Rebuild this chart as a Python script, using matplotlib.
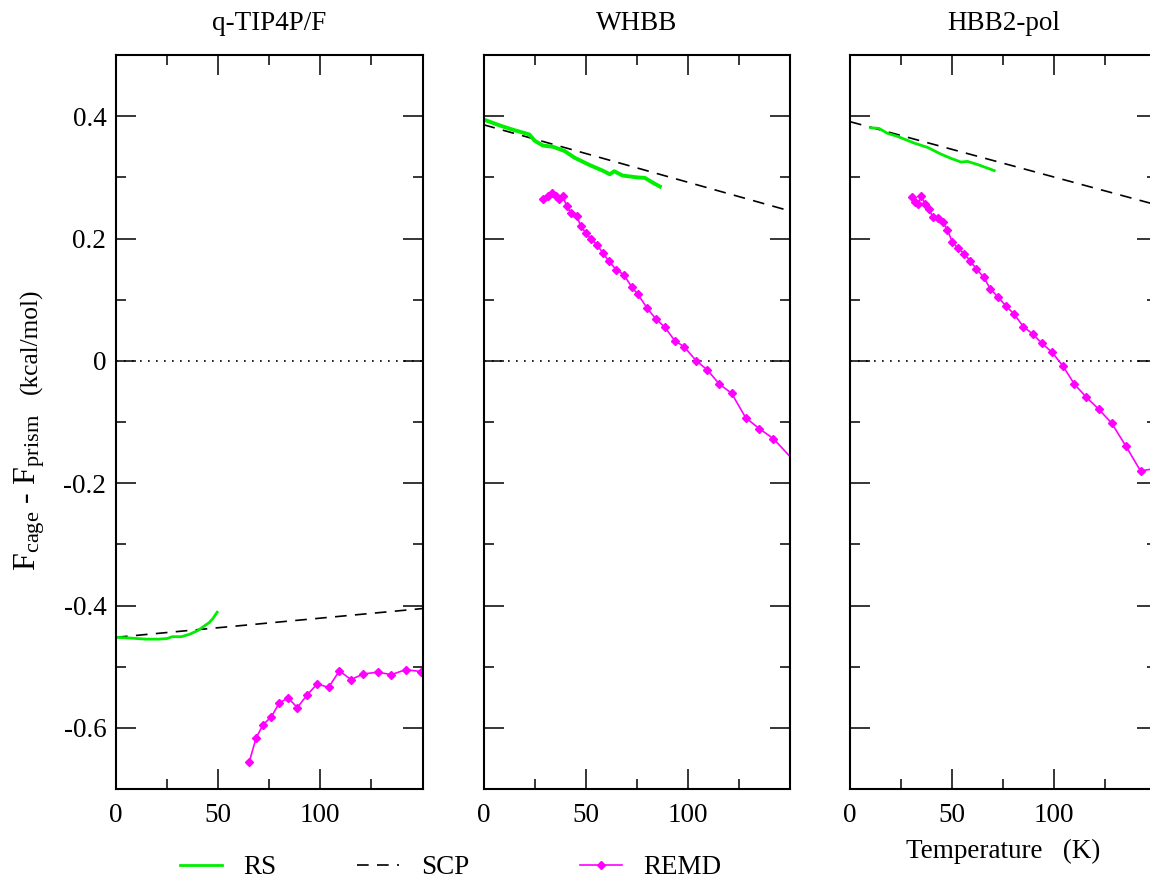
import matplotlib
matplotlib.use('Agg')
import matplotlib.pyplot as plt
from matplotlib.ticker import FixedLocator, FuncFormatter

plt.rcParams['font.family'] = ['Liberation Serif', 'DejaVu Serif']
plt.rcParams['mathtext.fontset'] = 'custom'
plt.rcParams['mathtext.rm'] = 'Liberation Serif'
plt.rcParams['mathtext.it'] = 'Liberation Serif:italic'
plt.rcParams['axes.unicode_minus'] = False

titles = ['q-TIP4P/F', 'WHBB', 'HBB2-pol']

# SCP: straight lines (end points)
scp_t = [[0, 150], [0, 150], [0, 150]]
scp_f = [[-0.452, -0.405], [0.386, 0.245], [0.391, 0.255]]

# RS curves
rs_t = [
    [0, 6, 14.5, 21, 25, 27.5, 32, 36, 40, 43, 45.6, 47.5, 49.5],
    [0.5, 7.8, 14.2, 22.5, 25, 29, 34, 39.7, 44.6, 52, 58.3, 61.8, 64, 68, 75, 79, 83, 86.3],
    [10.1, 14.2, 18.3, 23.2, 31.4, 37.9, 44.5, 49.4, 54.3, 57.5, 62.4, 70.6],
]
rs_f = [
    [-0.452, -0.453, -0.455, -0.455, -0.454, -0.451, -0.451, -0.447, -0.441, -0.434, -0.428, -0.421, -0.411],
    [0.394, 0.385, 0.378, 0.370, 0.360, 0.352, 0.350, 0.343, 0.332, 0.320, 0.311, 0.305, 0.310, 0.303,
     0.300, 0.299, 0.291, 0.285],
    [0.381, 0.380, 0.372, 0.367, 0.356, 0.349, 0.338, 0.331, 0.325, 0.326, 0.321, 0.311],
]

# REMD curves
remd_t = [
    [65.2, 68.6, 72, 76, 80, 84.3, 88.7, 93.6, 98.5, 104, 109.3, 115, 121, 128, 134.8, 141.7, 149.5],
    [29, 31.4, 33.3, 35.3, 36.8, 38.7, 40.7, 43, 45.6, 47.5, 50, 52.5, 55.4, 58.3, 61.3, 65, 68.6,
     72.5, 75.5, 79.9, 84.2, 88.7, 93.6, 98.2, 104, 109.6, 115.4, 121.4, 128.3, 135, 141.8, 156],
    [30.3, 31.9, 33.3, 34.9, 36.8, 38.7, 40.4, 43.1, 45.4, 47.7, 50.1, 52.9, 55.9, 58.7, 61.9, 65.4,
     68.6, 72.2, 76.3, 80.4, 84.8, 89.4, 93.8, 98.9, 104.1, 109.8, 115.5, 121.7, 128.1, 135.1, 142.2, 149.5],
]
remd_f = [
    [-0.656, -0.616, -0.595, -0.582, -0.559, -0.551, -0.567, -0.546, -0.528, -0.534, -0.507, -0.521,
     -0.512, -0.509, -0.513, -0.505, -0.508],
    [0.264, 0.270, 0.275, 0.270, 0.264, 0.270, 0.253, 0.241, 0.237, 0.221, 0.209, 0.200, 0.190, 0.177,
     0.163, 0.149, 0.141, 0.121, 0.109, 0.087, 0.069, 0.055, 0.033, 0.023, 0.0005, -0.015, -0.038,
     -0.053, -0.093, -0.111, -0.127, -0.178],
    [0.268, 0.260, 0.257, 0.269, 0.256, 0.249, 0.235, 0.234, 0.227, 0.214, 0.194, 0.184, 0.175, 0.164,
     0.150, 0.137, 0.118, 0.105, 0.090, 0.076, 0.056, 0.044, 0.029, 0.014, -0.008, -0.038, -0.059,
     -0.079, -0.102, -0.140, -0.180, -0.176],
]

fig = plt.figure(figsize=(11.5, 8.84), dpi=100)
lefts = [116 / 1150, 483.5 / 1150, 850 / 1150]
width = 306.5 / 1150
bottom = 1 - 789 / 884
height = (789 - 55) / 884

fmt_y = FuncFormatter(lambda v, p: '0' if abs(v) < 1e-9 else f'{v:.1f}')

for i in range(3):
    ax = fig.add_axes([lefts[i], bottom, width, height])
    ax.set_xlim(0, 150)
    ax.set_ylim(-0.7, 0.5)
    ax.plot([0, 150], [0, 0], color='black', lw=1.2, dashes=(1, 3.8))
    ax.plot(scp_t[i], scp_f[i], color='black', lw=1.2, dashes=(7, 5), label='SCP')
    ax.plot(rs_t[i], rs_f[i], color='#00ee00', lw=2.8 if i == 1 else 2.0, label='RS')
    ax.plot(remd_t[i], remd_f[i], color='#ff00ff', lw=1.2, marker='D', ms=4.5, label='REMD')

    ax.xaxis.set_major_locator(FixedLocator([0, 50, 100]))
    ax.xaxis.set_minor_locator(FixedLocator([25, 75, 125]))
    ax.yaxis.set_major_locator(FixedLocator([-0.6, -0.4, -0.2, 0, 0.2, 0.4]))
    ax.yaxis.set_minor_locator(FixedLocator([-0.5, -0.3, -0.1, 0.1, 0.3]))
    ax.yaxis.set_major_formatter(fmt_y)
    ax.tick_params(which='both', direction='in', top=True, right=True, width=1.1,
                   labelsize=19.5)
    ax.tick_params(which='major', length=14.5)
    ax.tick_params(which='minor', length=7.2)
    ax.tick_params(axis='x', pad=10)
    ax.tick_params(axis='y', pad=7)
    for s in ax.spines.values():
        s.set_linewidth(1.5)
    if i > 0:
        ax.set_yticklabels([])
    ax.set_title(titles[i], fontsize=19.5, pad=18)
    if i == 2:
        ax.set_xlabel('Temperature   (K)', fontsize=19.5, labelpad=8)
    if i == 0:
        handles, labels = ax.get_legend_handles_labels()

fig.text(30 / 1150, 1 - 492 / 884, r'F$_{\rm cage}$ - F$_{\rm prism}$', rotation=90,
         fontsize=23, ha='center', va='center')
fig.text(31 / 1150, 1 - 341 / 884, '(kcal/mol)', rotation=90,
         fontsize=18.3, ha='center', va='center')

# one legend per entry, placed at the handle's left edge
legend_x = {'RS': 180, 'SCP': 357, 'REMD': 580}
for name, px in legend_x.items():
    k = labels.index(name)
    leg = fig.legend([handles[k]], [labels[k]], loc='center left',
                     bbox_to_anchor=(px / 1150, 1 - 868 / 884), frameon=False,
                     fontsize=19.5, handlelength=1.55, handletextpad=0.8,
                     borderpad=0, borderaxespad=0)

plt.savefig('out.png', dpi=100)
